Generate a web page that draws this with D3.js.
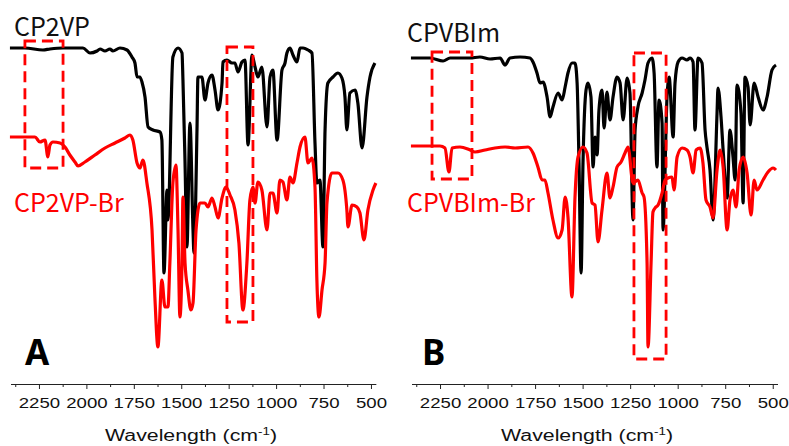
<!DOCTYPE html>
<html>
<head>
<meta charset="utf-8">
<script src="https://cdn.jsdelivr.net/npm/d3@7"></script>
<style>
    body { margin: 0; background: #fff; }
    svg { display: block; }
</style>
</head>
<body>
<svg id="chart" width="789" height="446"></svg>
<script>
// Подписи оси
const majorTicks = [2250, 2000, 1750, 1500, 1250, 1000, 750, 500];
const minorTicks = [2375, 2125, 1875, 1625, 1375, 1125, 875, 625];
const seriesNames = ['CP2VP', 'CP2VP-Br', 'CPVBIm', 'CPVBIm-Br'];
const panelLetters = ['A', 'B'];
const axisTitle = 'Wavelength (cm';

// Спектры: [волновое число, пропускание (отн. ед.)]
const cp2vp = [
    [2403, 67.2], [2324, 67.2], [2229, 66.8], [2192, 67], [2123, 67.2], [2018, 67.2],
    [1981, 66.2], [1944, 66.6], [1928, 67], [1902, 66.6], [1876, 67], [1860, 66.6],
    [1823, 67.2], [1786, 66.8], [1760, 65.4], [1744, 64.2], [1733, 61.4], [1718, 61.4],
    [1707, 60.4], [1691, 57.4], [1675, 51.4], [1649, 50.8], [1612, 50.4], [1602, 48.8],
    [1591, 22.2], [1575, 38.8], [1570, 32.8], [1544, 65.4], [1517, 67.2], [1496, 66.2],
    [1491, 60.8], [1480, 44.2], [1470, 27.4], [1454, 52.2], [1438, 30.8], [1433, 26.2],
    [1417, 50.8], [1412, 61.4], [1391, 61.4], [1375, 56.8], [1359, 60.2], [1338, 61.8],
    [1322, 58.8], [1306, 54.8], [1285, 60.2], [1280, 64.4], [1259, 64.8], [1233, 64.2],
    [1217, 64.2], [1201, 62.4], [1180, 64.4], [1164, 64.8], [1148, 47.8], [1127, 65.8],
    [1111, 63.4], [1096, 61.4], [1075, 63.4], [1048, 51.4], [1032, 61.4], [1017, 62.8],
    [995, 48.8], [969, 62.8], [953, 64.2], [943, 66.2], [927, 67.2], [911, 65.8],
    [890, 64.4], [874, 67.2], [858, 67.2], [832, 66.8], [811, 66.2], [795, 48.2],
    [785, 40.2], [769, 40.8], [753, 27.4], [742, 50.8], [727, 60.2], [700, 61.4],
    [674, 62.2], [653, 61.2], [637, 57.4], [627, 50.8], [611, 58.2], [584, 58.8],
    [569, 56.2], [547, 47.2], [521, 57.4], [505, 61.4], [479, 64.2]
];

const cp2vpBr = [
    [2403, 49.4], [2271, 49.4], [2245, 48.4], [2218, 48.8], [2203, 45.4], [2192, 47.8],
    [2176, 48.4], [2139, 48.2], [2113, 47.4], [2087, 45.8], [2060, 44.4], [2044, 43.6],
    [2008, 44.4], [1955, 45.8], [1902, 47.2], [1849, 48.2], [1797, 49.2], [1770, 49.8],
    [1755, 48.8], [1733, 44.2], [1718, 43.2], [1702, 44.8], [1681, 40.2], [1654, 30.8],
    [1639, 17.4], [1623, 7.4], [1602, 20.8], [1586, 15.4], [1570, 15.4], [1560, 24.2],
    [1544, 40.2], [1528, 43.8], [1517, 30.8], [1507, 13.4], [1496, 24.2], [1491, 37.4],
    [1480, 24.2], [1465, 18.8], [1449, 14.8], [1438, 16.2], [1422, 30.8], [1401, 36.2],
    [1375, 36.2], [1359, 35.4], [1338, 37.2], [1322, 35.4], [1306, 33.2], [1285, 37.2],
    [1264, 39.4], [1243, 37.8], [1217, 34.8], [1196, 28.2], [1175, 14.8], [1154, 24.2],
    [1138, 36.8], [1122, 39.4], [1111, 36.2], [1096, 40.4], [1075, 38.8], [1048, 30.8],
    [1032, 38.2], [1017, 38.2], [995, 34.2], [980, 40.8], [964, 40.4], [943, 36.8],
    [927, 41.4], [911, 40.2], [890, 44.2], [874, 47.4], [848, 49.4], [832, 44.2],
    [811, 45.2], [795, 39.4], [785, 20.8], [774, 13.4], [758, 18.8], [742, 24.2],
    [732, 36.2], [706, 42.2], [674, 42.2], [648, 40.8], [627, 34.8], [621, 31.4],
    [600, 35.8], [574, 35.4], [558, 34.2], [537, 28.8], [516, 34.8], [489, 38.8],
    [474, 40.2]
];

const cpvbim = [
    [2403, 65.2], [2303, 65.2], [2234, 64.6], [2197, 65.2], [2092, 65.2], [2040, 65.4],
    [1987, 65], [1934, 65.2], [1908, 63.8], [1882, 65.2], [1829, 65.4], [1777, 65.2],
    [1761, 64.4], [1740, 62.2], [1724, 60.2], [1708, 60.4], [1687, 57.4], [1671, 53.4],
    [1656, 55.4], [1629, 58.2], [1608, 56.8], [1592, 59.4], [1577, 62.2], [1556, 64.2],
    [1540, 64.2], [1529, 60.2], [1519, 44.2], [1508, 22.2], [1498, 44.2], [1482, 58.8],
    [1472, 60.2], [1456, 57.4], [1445, 43.4], [1435, 49.4], [1424, 45.8], [1414, 54.8],
    [1398, 58.8], [1387, 51.2], [1372, 58.4], [1356, 52.8], [1340, 57.4], [1319, 61.4],
    [1303, 60.2], [1287, 52.8], [1266, 61.2], [1251, 58.2], [1235, 32.8], [1224, 50.8],
    [1209, 55.4], [1187, 58.2], [1172, 60.8], [1156, 64.2], [1135, 65.2], [1124, 62.2],
    [1109, 43.4], [1098, 56.8], [1082, 52.2], [1077, 30.8], [1056, 57.4], [1045, 61.4],
    [1024, 49.4], [1014, 60.2], [998, 64.4], [977, 65.2], [951, 64.8], [935, 65.2],
    [919, 64.4], [909, 50.8], [893, 65.2], [872, 64.2], [856, 50.8], [846, 47.4],
    [830, 42.8], [814, 32.8], [793, 54.2], [788, 59.2], [772, 53.4], [761, 46.8],
    [740, 37.2], [725, 50.8], [709, 45.4], [698, 40.8], [688, 59.8], [667, 54.2],
    [656, 36.2], [646, 61.4], [630, 59.4], [619, 51.8], [598, 60.2], [577, 57.4],
    [551, 54.8], [530, 57.4], [504, 62.8], [483, 63.8]
];

const cpvbimBr = [
    [2403, 47.6], [2250, 47.6], [2224, 47.2], [2203, 42.4], [2187, 47.2], [2145, 47.4],
    [2092, 46.8], [2066, 46.4], [2013, 46.8], [1961, 47.2], [1908, 47.4], [1855, 47.2],
    [1787, 47.4], [1761, 46.2], [1735, 43.4], [1713, 40.8], [1698, 40.8], [1682, 38.2],
    [1656, 32.8], [1629, 29.2], [1608, 30.8], [1592, 37.4], [1577, 33.4], [1556, 17.4],
    [1540, 37.4], [1524, 45.4], [1498, 47.4], [1477, 46.2], [1450, 36.2], [1435, 35.8],
    [1419, 28.4], [1398, 34.8], [1372, 42.2], [1356, 37.2], [1340, 39.4], [1319, 43.4],
    [1298, 44.4], [1277, 46.2], [1261, 47.4], [1235, 40.2], [1209, 40.8], [1187, 38.2],
    [1177, 37.4], [1161, 24.2], [1156, 7.4], [1140, 24.2], [1130, 34.4], [1119, 35.2],
    [1103, 35.8], [1082, 38.2], [1066, 40.8], [1051, 41.2], [1030, 41.4], [1019, 38.8],
    [1003, 45.4], [977, 47.2], [951, 46.8], [935, 45.4], [919, 42.2], [903, 46.8],
    [882, 47.2], [867, 44.2], [851, 36.8], [830, 35.4], [814, 33.2], [793, 42.8],
    [777, 46.8], [761, 43.4], [740, 30.8], [725, 36.8], [709, 38.8], [693, 35.4],
    [677, 42.8], [656, 45.4], [635, 42.2], [614, 33.8], [598, 40.8], [583, 38.8],
    [551, 40.8], [525, 42.4], [498, 43.2], [483, 42.8]
];

// Выделенные области: [от, до, верх, низ]
const boxesA = [[2324, 2123, 68.6, 43.2], [1259, 1122, 67.4, 12.4]];
const boxesB = [[2292, 2082, 66.4, 41], [1230, 1061, 66.2, 5]];

const svg = d3.select('#chart');
const axisY = 384;

const y = d3.scaleLinear().domain([0, 70]).range([axisY, 34]);

const panels = [
    { range: [10.5, 375.7], black: cp2vp, red: cp2vpBr, boxes: boxesA,
      names: [seriesNames[0], seriesNames[1]], letter: panelLetters[0],
      labelX: 14, nameY: 36, letterX: 25, titleX: 191 },
    { range: [411.5, 777.5], black: cpvbim, red: cpvbimBr, boxes: boxesB,
      names: [seriesNames[2], seriesNames[3]], letter: panelLetters[1],
      labelX: 407, nameY: 42, letterX: 422, titleX: 587 }
];

const drawPanel = (p) => {
    const x = d3.scaleLinear().domain([2400, 475]).range(p.range);
    const g = svg.append('g');

    // Ось X: малые и большие деления
    g.append('g')
        .attr('transform', 'translate(0,' + axisY + ')')
        .call(d3.axisBottom(x).tickValues(minorTicks).tickSize(3).tickSizeOuter(0).tickFormat(''));

    const axis = g.append('g')
        .attr('transform', 'translate(0,' + axisY + ')')
        .call(d3.axisBottom(x).tickValues(majorTicks).tickSize(5).tickSizeOuter(0).tickFormat(d3.format('d')));

    g.selectAll('.domain, .tick line').attr('stroke', '#222').attr('stroke-width', 1);

    axis.selectAll('.tick text')
        .attr('y', 14)
        .attr('fill', '#111')
        .attr('font-family', '"Liberation Sans", Arial, sans-serif')
        .attr('font-size', 14)
        .attr('transform', 'scale(1.33,1)');

    const title = g.append('text')
        .attr('x', p.titleX)
        .attr('y', 441)
        .attr('text-anchor', 'middle')
        .attr('font-family', '"Liberation Sans", Arial, sans-serif')
        .attr('font-size', 16)
        .attr('fill', '#111')
        .attr('textLength', 172)
        .attr('lengthAdjust', 'spacingAndGlyphs');
    title.append('tspan').text(axisTitle);
    title.append('tspan').attr('font-size', 10).attr('dy', -6).text('-1');
    title.append('tspan').attr('dy', 6).text(')');

    const line = d3.line()
        .x(d => x(d[0]))
        .y(d => y(d[1]))
        .curve(d3.curveMonotoneX);

    g.append('path')
        .datum(p.black)
        .attr('d', line)
        .attr('fill', 'none')
        .attr('stroke', '#000')
        .attr('stroke-width', 3.2)
        .attr('stroke-linejoin', 'round');

    g.append('path')
        .datum(p.red)
        .attr('d', line)
        .attr('fill', 'none')
        .attr('stroke', '#ff0000')
        .attr('stroke-width', 3.2)
        .attr('stroke-linejoin', 'round');

    // Пунктирные рамки
    g.selectAll('rect.box')
        .data(p.boxes)
        .enter()
        .append('rect')
        .attr('class', 'box')
        .attr('x', d => x(d[0]))
        .attr('y', d => y(d[2]))
        .attr('width', d => x(d[1]) - x(d[0]))
        .attr('height', d => y(d[3]) - y(d[2]))
        .attr('fill', 'none')
        .attr('stroke', '#ff0000')
        .attr('stroke-width', 2.8)
        .attr('stroke-dasharray', '11,6');

    // Подписи образцов
    const labelFont = '"Noto Sans CJK SC", "Noto Sans", sans-serif';
    g.append('text')
        .attr('x', p.labelX).attr('y', p.nameY)
        .attr('font-family', labelFont).attr('font-size', 25)
        .attr('fill', '#111')
        .text(p.names[0]);
    g.append('text')
        .attr('x', p.labelX).attr('y', 212)
        .attr('font-family', labelFont).attr('font-size', 25)
        .attr('fill', '#ff0000')
        .text(p.names[1]);

    g.append('text')
        .attr('x', p.letterX).attr('y', 365)
        .attr('font-family', '"Noto Sans", sans-serif')
        .attr('font-weight', 'bold').attr('font-size', 35)
        .attr('fill', '#000')
        .text(p.letter);
};

panels.forEach(drawPanel);
</script>
</body>
</html>
